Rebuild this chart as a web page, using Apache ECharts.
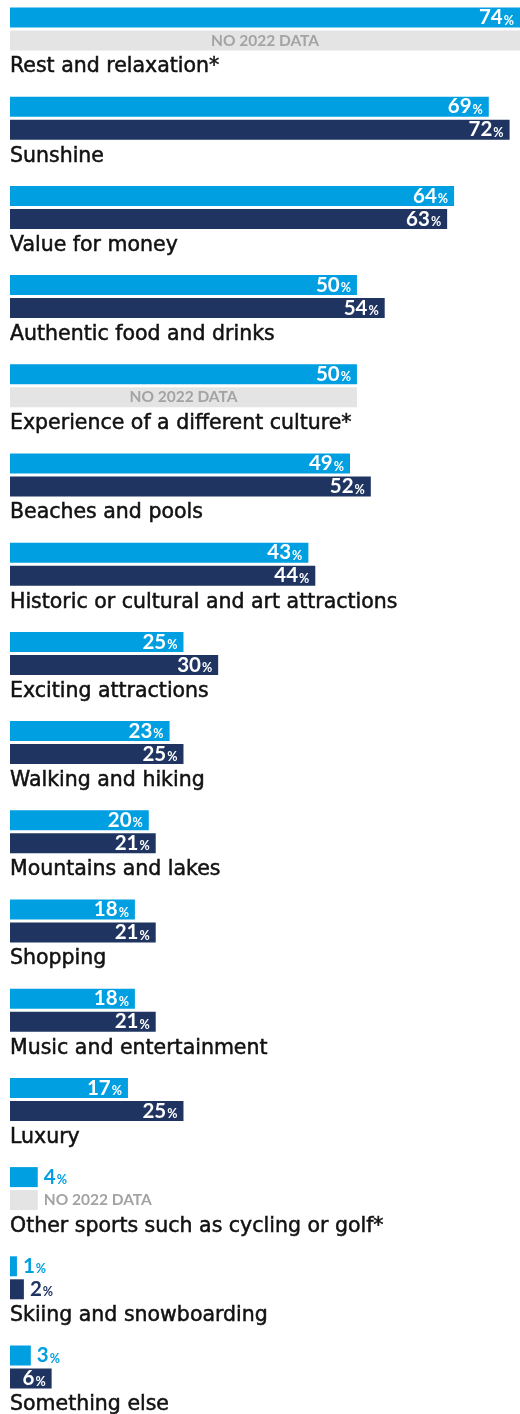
<!DOCTYPE html>
<html>
<head>
<meta charset="utf-8">
<script src="https://cdn.jsdelivr.net/npm/echarts@6/dist/echarts.min.js"></script>
<style>
  html, body { margin: 0; padding: 0; background: #ffffff; }
  #chart { width: 520px; height: 1414px; }
</style>
</head>
<body>
<div id="chart"></div>
<script>
// Holiday motivations, share of respondents (%)
const categories = [
  'Rest and relaxation*',
  'Sunshine',
  'Value for money',
  'Authentic food and drinks',
  'Experience of a different culture*',
  'Beaches and pools',
  'Historic or cultural and art attractions',
  'Exciting attractions',
  'Walking and hiking',
  'Mountains and lakes',
  'Shopping',
  'Music and entertainment',
  'Luxury',
  'Other sports such as cycling or golf*',
  'Skiing and snowboarding',
  'Something else'
];
const share2023 = [74, 69, 64, 50, 50, 49, 43, 25, 23, 20, 18, 18, 17, 4, 1, 3];
// null = option not asked in 2022
const share2022 = [null, 72, 63, 54, null, 52, 44, 30, 25, 21, 21, 21, 25, null, 2, 6];
const missingText = 'NO 2022 DATA';

const LIGHT = '#009FE1';
const NAVY = '#1F3461';
const GREY = '#E4E4E4';
const GREY_TEXT = '#A3A3A3';
const CAT_FONT = '"DejaVu Sans", sans-serif';
const NUM_FONT = 'Lato, "DejaVu Sans", sans-serif';
const INSIDE_MIN = 5; // smaller bars carry their label outside

function valueLabel(v, color) {
  const inside = v >= INSIDE_MIN;
  const c = inside ? '#ffffff' : color;
  return {
    show: true,
    position: inside ? 'insideRight' : 'right',
    distance: 6,
    formatter: '{v|' + v + '}{p|%}',
    rich: {
      v: { fontSize: 20.5, fontWeight: 'bold', fontFamily: NUM_FONT, color: c },
      p: { fontSize: 12.5, fontWeight: 'bold', fontFamily: NUM_FONT, color: c,
           verticalAlign: 'bottom', padding: [0, 0, 1, 1] }
    }
  };
}

const data2023 = share2023.map(v => ({ value: v, label: valueLabel(v, LIGHT) }));
const data2022 = share2022.map((v, i) => {
  if (v === null) {
    const ref = share2023[i];
    return {
      value: ref,
      itemStyle: { color: GREY },
      label: {
        show: true,
        position: ref >= INSIDE_MIN ? 'inside' : 'right',
        distance: 6,
        formatter: missingText,
        color: GREY_TEXT,
        fontSize: 15.5,
        fontWeight: 'bold',
        fontFamily: NUM_FONT
      }
    };
  }
  return { value: v, label: valueLabel(v, NAVY) };
});

const chart = echarts.init(document.getElementById('chart'), null, { renderer: 'canvas' });
chart.setOption({
  animation: false,
  backgroundColor: '#ffffff',
  grid: { left: 10, right: 0, top: -15.6, bottom: 2.4, outerBoundsMode: 'none' },
  xAxis: {
    type: 'value',
    min: 0,
    max: 73.5,
    show: false
  },
  yAxis: {
    type: 'category',
    inverse: true,
    data: categories,
    axisLine: { show: false },
    axisTick: { show: false },
    splitLine: { show: false },
    axisLabel: {
      inside: true,
      interval: 0,
      margin: 0,
      verticalAlign: 'middle',
      // category name sits on the second line, under the pair of bars
      formatter: name => '\n' + name,
      lineHeight: 76,
      fontSize: 20.5,
      fontFamily: CAT_FONT,
      color: '#111111',
      textBorderColor: '#111111',
      textBorderWidth: 0.5
    }
  },
  series: [
    {
      name: '2023',
      type: 'bar',
      barWidth: 20,
      barGap: '15%',
      itemStyle: { color: LIGHT },
      data: data2023
    },
    {
      name: '2022',
      type: 'bar',
      barWidth: 20,
      itemStyle: { color: NAVY },
      data: data2022
    }
  ]
});
</script>
</body>
</html>
